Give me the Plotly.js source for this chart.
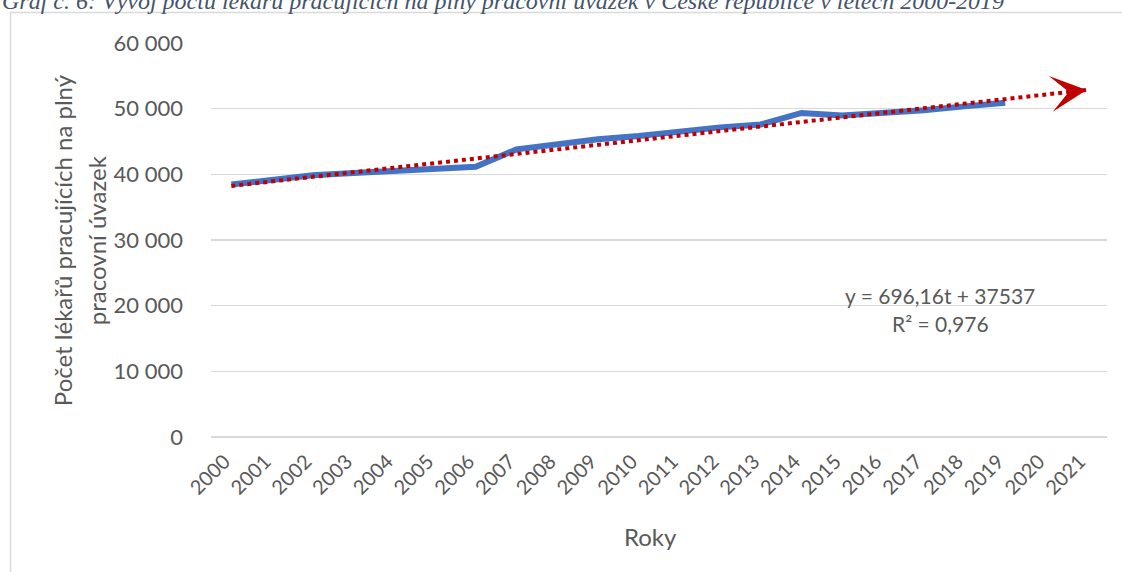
<!DOCTYPE html>
<html>
<head>
<meta charset="utf-8">
<script src="https://cdn.plot.ly/plotly-3.0.1.min.js"></script>
<style>html,body{margin:0;padding:0;background:#fff;}#chart{width:1122px;height:572px;}</style>
</head>
<body>
<div id="chart"></div>
<script>
// Data
const years = [2000,2001,2002,2003,2004,2005,2006,2007,2008,2009,2010,2011,2012,2013,2014,2015,2016,2017,2018,2019];
const doctors = [38450,39250,39850,40200,40500,40850,41150,43800,44550,45350,45850,46550,47150,47600,49350,48950,49250,49750,50350,50900];
const trendYears = [2000, 2021];
const trendValues = [38230, 52850];
const tickYears = [2000,2001,2002,2003,2004,2005,2006,2007,2008,2009,2010,2011,2012,2013,2014,2015,2016,2017,2018,2019,2020,2021];
const yTicks = [0,10000,20000,30000,40000,50000,60000];
const titleText = 'Graf č. 6: Vývoj počtu lékařů pracujících na plný pracovní úvazek v České republice v letech 2000-2019';
const yTitleLines = ['Počet lékařů pracujících na plný', 'pracovní úvazek'];
const xTitle = 'Roky';
const eqLines = ['y = 696,16t + 37537', 'R² = 0,976'];

const FONT = 'Lato, "Open Sans", sans-serif';
const GRAY = '#595959';

// pixel helpers for plot area (l=211, r=1107, t=43, b=436.7)
const L = 211, R = 1107, T = 43, B = 436.7;
const px = x => (x - L) / (R - L);
const py = y => (B - y) / (B - T);

const traces = [
  {
    x: years, y: doctors, type: 'scatter', mode: 'lines',
    line: {color: '#4472c4', width: 6}, hoverinfo: 'skip', showlegend: false
  },
  {
    x: trendYears, y: trendValues, type: 'scatter', mode: 'lines',
    line: {color: '#c00000', width: 4, dash: '4px,4px'}, hoverinfo: 'skip', showlegend: false
  }
];

const layout = {
  width: 1122, height: 572,
  margin: {l: L, r: 1122 - R, t: T, b: 572 - B},
  paper_bgcolor: '#fff', plot_bgcolor: '#fff',
  separators: ', ',
  showlegend: false,
  font: {family: FONT, color: GRAY},
  xaxis: {
    type: 'linear', range: [1999.5, 2021.5],
    tickmode: 'array', tickvals: tickYears, ticktext: tickYears.map(String),
    tickangle: -45, tickfont: {size: 20, color: GRAY, family: FONT},
    showgrid: false, zeroline: false, showline: false, ticks: '',
    ticklabelstandoff: 8, ticklabelshift: -7
  },
  yaxis: {
    range: [0, 60000], tickmode: 'array', tickvals: yTicks,
    ticktext: yTicks.map(v => v === 0 ? '0' : (v/1000) + ' 000'),
    tickfont: {size: 22, color: GRAY, family: FONT},
    showgrid: true, gridcolor: '#d9d9d9', gridwidth: 1.3,
    zeroline: true, zerolinecolor: '#d9d9d9', zerolinewidth: 1.3,
    showline: false, ticks: '', ticklabelstandoff: 27
  },
  shapes: [
    {type: 'rect', xref: 'paper', yref: 'paper', x0: px(10.5), x1: px(1200), y0: py(700), y1: py(12.5),
     line: {color: '#d9d9d9', width: 1.5}, fillcolor: 'rgba(0,0,0,0)', layer: 'below'}
  ],
  annotations: [
    {text: '<i>' + titleText + '</i>', xref: 'paper', yref: 'paper', x: px(0), y: py(16), xanchor: 'left', yanchor: 'bottom',
     showarrow: false, font: {family: '"Liberation Serif", serif', size: 24, color: '#44546a'}},
    {text: yTitleLines[0], xref: 'paper', yref: 'paper', x: px(62), y: py(240), xanchor: 'center', yanchor: 'middle',
     textangle: -90, showarrow: false, font: {size: 24, color: GRAY, family: FONT}},
    {text: yTitleLines[1], xref: 'paper', yref: 'paper', x: px(96), y: py(240), xanchor: 'center', yanchor: 'middle',
     textangle: -90, showarrow: false, font: {size: 24, color: GRAY, family: FONT}},
    {text: xTitle, xref: 'paper', yref: 'paper', x: px(650), y: py(536), xanchor: 'center', yanchor: 'middle',
     showarrow: false, font: {size: 24, color: GRAY, family: FONT}},
    {text: eqLines[0], xref: 'paper', yref: 'paper', x: px(940), y: py(295), xanchor: 'center', yanchor: 'middle',
     showarrow: false, font: {size: 21, color: GRAY, family: FONT}},
    {text: eqLines[1], xref: 'paper', yref: 'paper', x: px(940), y: py(323), xanchor: 'center', yanchor: 'middle',
     showarrow: false, font: {size: 21, color: GRAY, family: FONT}},
    {text: '', xref: 'x', yref: 'y', x: trendYears[1], y: trendValues[1], ax: -13, ay: 1.4,
     showarrow: true, arrowhead: 3, arrowsize: 2.4, arrowwidth: 2.5, arrowcolor: '#c00000', standoff: 0}
  ]
};

Plotly.newPlot('chart', traces, layout, {displayModeBar: false, staticPlot: true});
</script>
</body>
</html>
